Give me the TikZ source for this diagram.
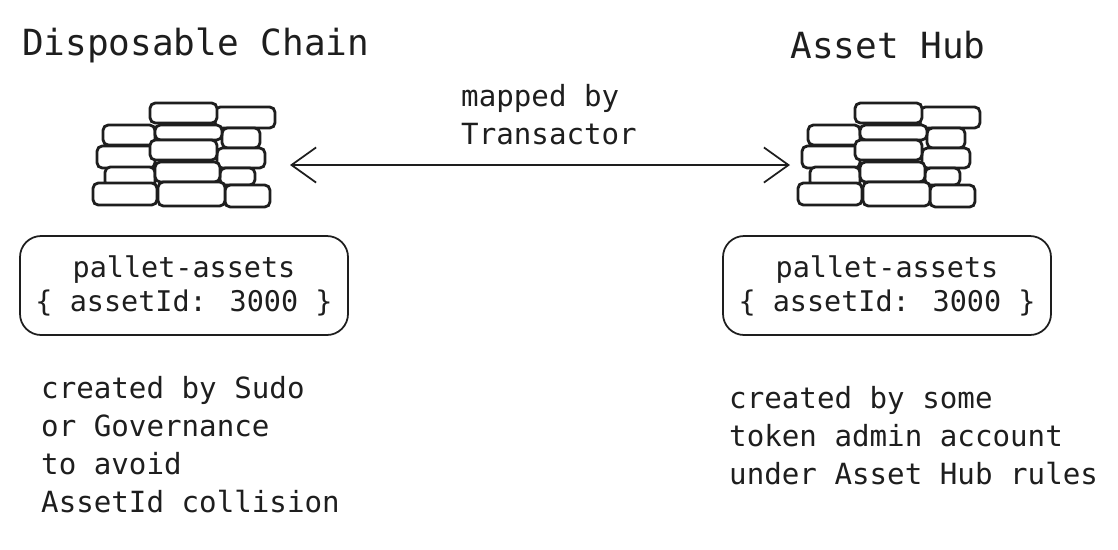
\documentclass[tikz,border=0pt]{standalone}
\usepackage{fontspec}
\setmainfont{DejaVu Sans Mono}
\usetikzlibrary{arrows.meta,positioning}
\definecolor{ink}{HTML}{1E1E1E}

\begin{document}
\begin{tikzpicture}[x=0.02cm,y=-0.02cm,
            brick/.style={draw=ink,fill=white,line width=1.6pt,rounded corners=3pt},
            title/.style={font=\fontsize{20.5}{25}\selectfont,text=ink},
            body/.style={font=\fontsize{16.6}{21.6}\selectfont,text=ink,align=left},
            pallet/.style={draw=ink,line width=1pt,rounded corners=12pt,minimum width=328*0.02cm,minimum height=99*0.02cm,font=\fontsize{16.2}{19.3}\selectfont,text=ink,align=center},
            every path/.style={ink}
          ]
          \useasboundingbox (0,0) rectangle (1118,549);
          %stacks
          \foreach \dx/\name in {0/disp,705/hub}{
            \begin{scope}[xshift=\dx*0.02cm]
              \foreach \xa/\ya/\xb/\yb in {103/125/155/145, 97/146/155/168, 105/167/155/187, 93/183/157/205,
                                           215/107/275/128, 222/128/260/148, 217/148/265/168, 220/168/255/185, 225/185/270/207,
                                           150/103/217/123, 155/125/222/140, 150/140/217/160, 155/162/220/182, 158/182/225/206}
                \draw[brick] (\xa,\ya) rectangle (\xb,\yb);
              \coordinate (\name) at (184,155);
            \end{scope}
          }

          %titles
          \node[title,anchor=west] (dtitle) at (16,45) {Disposable Chain};
          \node[title] (htitle) at (888,45) {Asset Hub};

          %arrow
          \coordinate (al) at (290,165);
          \coordinate (ar) at (790,165);
          \draw[line width=1pt,{Straight Barb[length=14pt,width=20pt]}-{Straight Barb[length=14pt,width=20pt]}] (al) -- (ar);
          \node[body,anchor=north west] (map) at (455,78) {mapped by\\Transactor};

          %pallets
          \node[pallet] (dpal) at (184,285.5) {pallet-assets\\\{ assetId: 3000 \}};
          \node[pallet] (hpal) at (887,285.5) {pallet-assets\\\{ assetId: 3000 \}};

          %notes
          \node[body,anchor=north west] (dnote) at (35,370) {created by Sudo\\or Governance\\to avoid\\AssetId collision};
          \node[body,anchor=north west] (hnote) at (723,380) {created by some\\token admin account\\under Asset Hub rules};
      \end{tikzpicture}
\end{document}
